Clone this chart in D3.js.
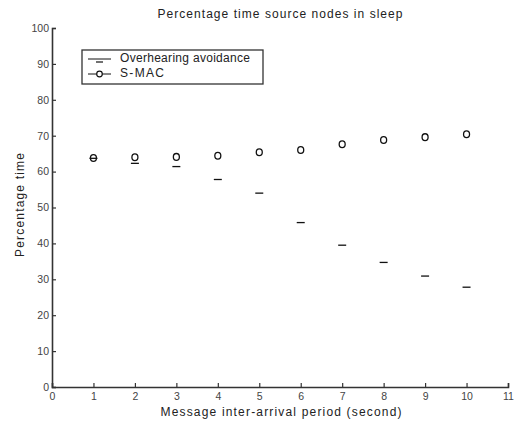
<!DOCTYPE html>
<html><head><meta charset="utf-8">
<script src="https://cdn.jsdelivr.net/npm/d3@7"></script>
<style>body{margin:0;background:#fff}svg{display:block}</style>
</head><body>
<script>
const periods = [1,2,3,4,5,6,7,8,9,10];
const overhearing = [63.7,62.3,61.4,57.8,54.0,45.8,39.5,34.7,30.9,27.8];
const smac = [63.8,64.0,64.1,64.4,65.4,66.0,67.6,68.8,69.6,70.4];
const xTicks = [0,1,2,3,4,5,6,7,8,9,10,11];
const yTicks = [0,10,20,30,40,50,60,70,80,90,100];
const seriesNames = ["Overhearing avoidance","S-MAC"];

const W=516,H=421;
const svg=d3.select("body").append("svg").attr("width",W).attr("height",H);
const font="Liberation Sans, Arial, sans-serif";
const x=d3.scaleLinear().domain([0,11]).range([52,508]);
const y=d3.scaleLinear().domain([0,100]).range([387,28]);
const ink="#333";

const gx=svg.append("g").attr("transform","translate(0,387)")
  .call(d3.axisBottom(x).tickValues(xTicks).tickFormat(d3.format("d")).tickSize(-4).tickPadding(6));
const gy=svg.append("g").attr("transform","translate(52,0)")
  .call(d3.axisLeft(y).tickValues(yTicks).tickFormat(d3.format("d")).tickSize(-4).tickPadding(3));
[gx,gy].forEach(g=>{
  g.select(".domain").attr("stroke",ink).attr("stroke-width",1.6);
  g.selectAll(".tick line").attr("stroke",ink).attr("stroke-width",1.2);
  g.selectAll(".tick text").attr("fill","#444").attr("font-family",font).attr("font-size",10.5);
});

// title & labels
svg.append("text").attr("x",280).attr("y",18).attr("text-anchor","middle")
  .attr("font-family",font).attr("font-size",12).attr("fill","#222")
  .attr("textLength",245).attr("lengthAdjust","spacing").text("Percentage time source nodes in sleep");
svg.append("text").attr("x",281).attr("y",416).attr("text-anchor","middle")
  .attr("font-family",font).attr("font-size",12).attr("fill","#222")
  .attr("textLength",241).attr("lengthAdjust","spacing").text("Message inter-arrival period (second)");
svg.append("text").attr("transform","translate(24,205) rotate(-90)").attr("text-anchor","middle")
  .attr("font-family",font).attr("font-size",12).attr("fill","#222")
  .attr("textLength",104).attr("lengthAdjust","spacing").text("Percentage time");

// marks
svg.append("g").selectAll("line").data(periods).join("line")
  .attr("x1",(d)=>x(d)-4).attr("x2",(d)=>x(d)+4)
  .attr("y1",(d,i)=>y(overhearing[i])).attr("y2",(d,i)=>y(overhearing[i]))
  .attr("stroke","#111").attr("stroke-width",1.3);
svg.append("g").selectAll("ellipse").data(periods).join("ellipse")
  .attr("cx",d=>x(d)).attr("cy",(d,i)=>y(smac[i])).attr("rx",3).attr("ry",3.4)
  .attr("fill","none").attr("stroke","#111").attr("stroke-width",1.3);

// legend
const lg=svg.append("g");
lg.append("rect").attr("x",82).attr("y",50).attr("width",181).attr("height",34)
  .attr("fill","#fff").attr("stroke",ink).attr("stroke-width",1.3);
lg.append("line").attr("x1",88).attr("x2",111).attr("y1",59).attr("y2",59).attr("stroke","#111").attr("stroke-width",1);
lg.append("line").attr("x1",96).attr("x2",103).attr("y1",62).attr("y2",62).attr("stroke","#111").attr("stroke-width",1.2);
lg.append("line").attr("x1",88).attr("x2",111).attr("y1",74).attr("y2",74).attr("stroke","#111").attr("stroke-width",1);
lg.append("circle").attr("cx",99.5).attr("cy",74).attr("r",2.8).attr("fill","#fff").attr("stroke","#111").attr("stroke-width",1.2);
lg.selectAll("text").data(seriesNames).join("text")
  .attr("x",120).attr("y",(d,i)=>62+i*15)
  .attr("font-family",font).attr("font-size",12).attr("fill","#222")
  .attr("textLength",(d,i)=>i===0?130:44).attr("lengthAdjust","spacing").text(d=>d);
</script>
</body></html>
